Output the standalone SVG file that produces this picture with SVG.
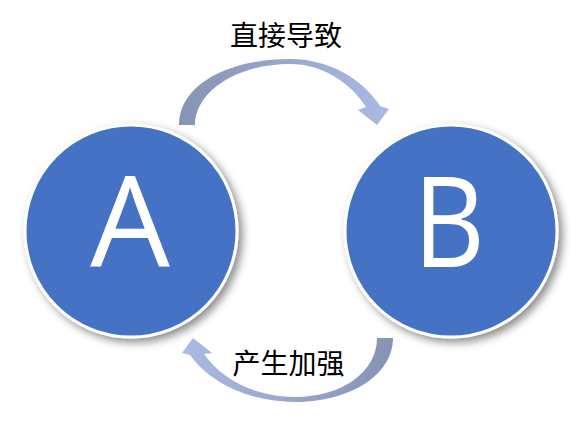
<svg xmlns="http://www.w3.org/2000/svg" width="582" height="428" viewBox="0 0 582 428">
  <defs>
    <linearGradient id="gTop" gradientUnits="userSpaceOnUse" x1="179" y1="0" x2="389" y2="0">
      <stop offset="0" stop-color="#8793B4"/>
      <stop offset="1" stop-color="#AABAE3"/>
    </linearGradient>
    <linearGradient id="gBot" gradientUnits="userSpaceOnUse" x1="393" y1="0" x2="182" y2="0">
      <stop offset="0" stop-color="#8793B4"/>
      <stop offset="1" stop-color="#AABAE3"/>
    </linearGradient>
    <filter id="shadow" x="-20%" y="-20%" width="150%" height="150%">
      <feDropShadow dx="4" dy="4" stdDeviation="4" flood-color="#000" flood-opacity="0.45"/>
    </filter>
  </defs>
  <style>
    .node { fill: #4472C4; stroke: #FFFFFF; stroke-width: 3; filter: url(#shadow); }
    .letter { font-family: "Open Sans", "Liberation Sans", sans-serif; font-size: 126px; fill: #FFFFFF; text-anchor: middle; }
    .label { font-family: "Noto Sans CJK SC", "Noto Sans", sans-serif; font-size: 28px; fill: #000000; text-anchor: middle; }
  </style>
  <rect width="582" height="428" fill="#FFFFFF"/>
  <g id="connectors">
    <g id="edge-a-b">
      <path fill="url(#gTop)" d="M179,125 C179,85 228,59 290,59 C328,59 362,78 380,106 L389,109 L377,125 L358,110 L366,107 C350,82 322,64 290,64 C236,64 195,92 195,125 Z"/>
      <text class="label" x="286" y="46">直接导致</text>
    </g>
    <g id="edge-b-a">
      <path fill="url(#gBot)" d="M393,338 C393,375 350,402 295,402 C250,402 210,383 190,355 L182,353 L193,338 L212,353 L204,354 C222,380 256,397 295,397 C342,397 377,372 377,338 Z"/>
      <text class="label" x="288.5" y="374">产生加强</text>
    </g>
  </g>
  <g id="node-a">
    <circle class="node" cx="131" cy="231" r="106"/>
    <text class="letter" x="130" y="267">A</text>
  </g>
  <g id="node-b">
    <circle class="node" cx="451" cy="231" r="106"/>
    <text class="letter" transform="translate(449 0) scale(0.88 1)" x="0" y="267">B</text>
  </g>
</svg>
